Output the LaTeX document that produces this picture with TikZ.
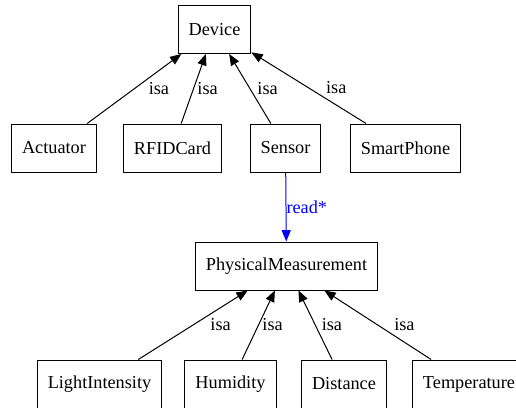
\documentclass[tikz,border=0pt]{standalone}
\usepackage{fontspec}
\setmainfont{Liberation Serif}
\newfontfamily\tnr{Liberation Serif}
\usetikzlibrary{arrows.meta}
\definecolor{azul}{RGB}{0,0,255}
\begin{document}
\begin{tikzpicture}[x=0.75pt, y=-0.75pt, line width=0.75pt, >={Triangle[length=8.5pt, width=6.8pt]},
		font=\tnr\fontsize{13.7}{16}\selectfont,
		classe/.style={draw, rectangle, minimum height=36pt, inner xsep=7.9pt, inner ysep=0pt},
		isa/.style={anchor=west, inner sep=0pt}]
	\useasboundingbox (0,0) rectangle (516,407);
	% Classes
	\node[classe] (dev) at (214.5,29.5) {Device};
	\node[classe] (act) at (54,148) {Actuator};
	\node[classe] (rfid) at (172.5,148) {RFIDCard};
	\node[classe] (sen) at (285.5,148) {Sensor};
	\node[classe] (phone) at (405.5,148) {SmartPhone};
	\node[classe] (pm) at (286.5,266) {PhysicalMeasurement};
	\node[classe] (light) at (99.5,384) {LightIntensity};
	\node[classe] (hum) at (230.5,384) {Humidity};
	\node[classe] (dist) at (344,384) {Distance};
	\node[classe] (temp) at (469,384) {Temperature};
	
	% Heranca (isa)
	\draw[->] (act) -- (dev) node[isa, midway, xshift=10.5pt] {isa};
	\draw[->] (rfid) -- (dev) node[isa, midway, xshift=2.6pt] {isa};
	\draw[->] (sen) -- (dev) node[isa, midway, xshift=5.2pt] {isa};
	\draw[->] (phone) -- (dev) node[isa, midway, xshift=12.7pt] {isa};
	\draw[->] (light) -- (pm) node[isa, midway, xshift=12.7pt] {isa};
	\draw[->] (hum) -- (pm) node[isa, midway, xshift=2.6pt] {isa};
	\draw[->] (dist) -- (pm) node[isa, midway, xshift=4.5pt] {isa};
	\draw[->] (temp) -- (pm) node[isa, midway, xshift=12pt] {isa};
	
	% Relacao read*
	\draw[->, azul] (sen) -- (pm) node[isa, midway, text=azul] {read*};
\end{tikzpicture}
\end{document}
